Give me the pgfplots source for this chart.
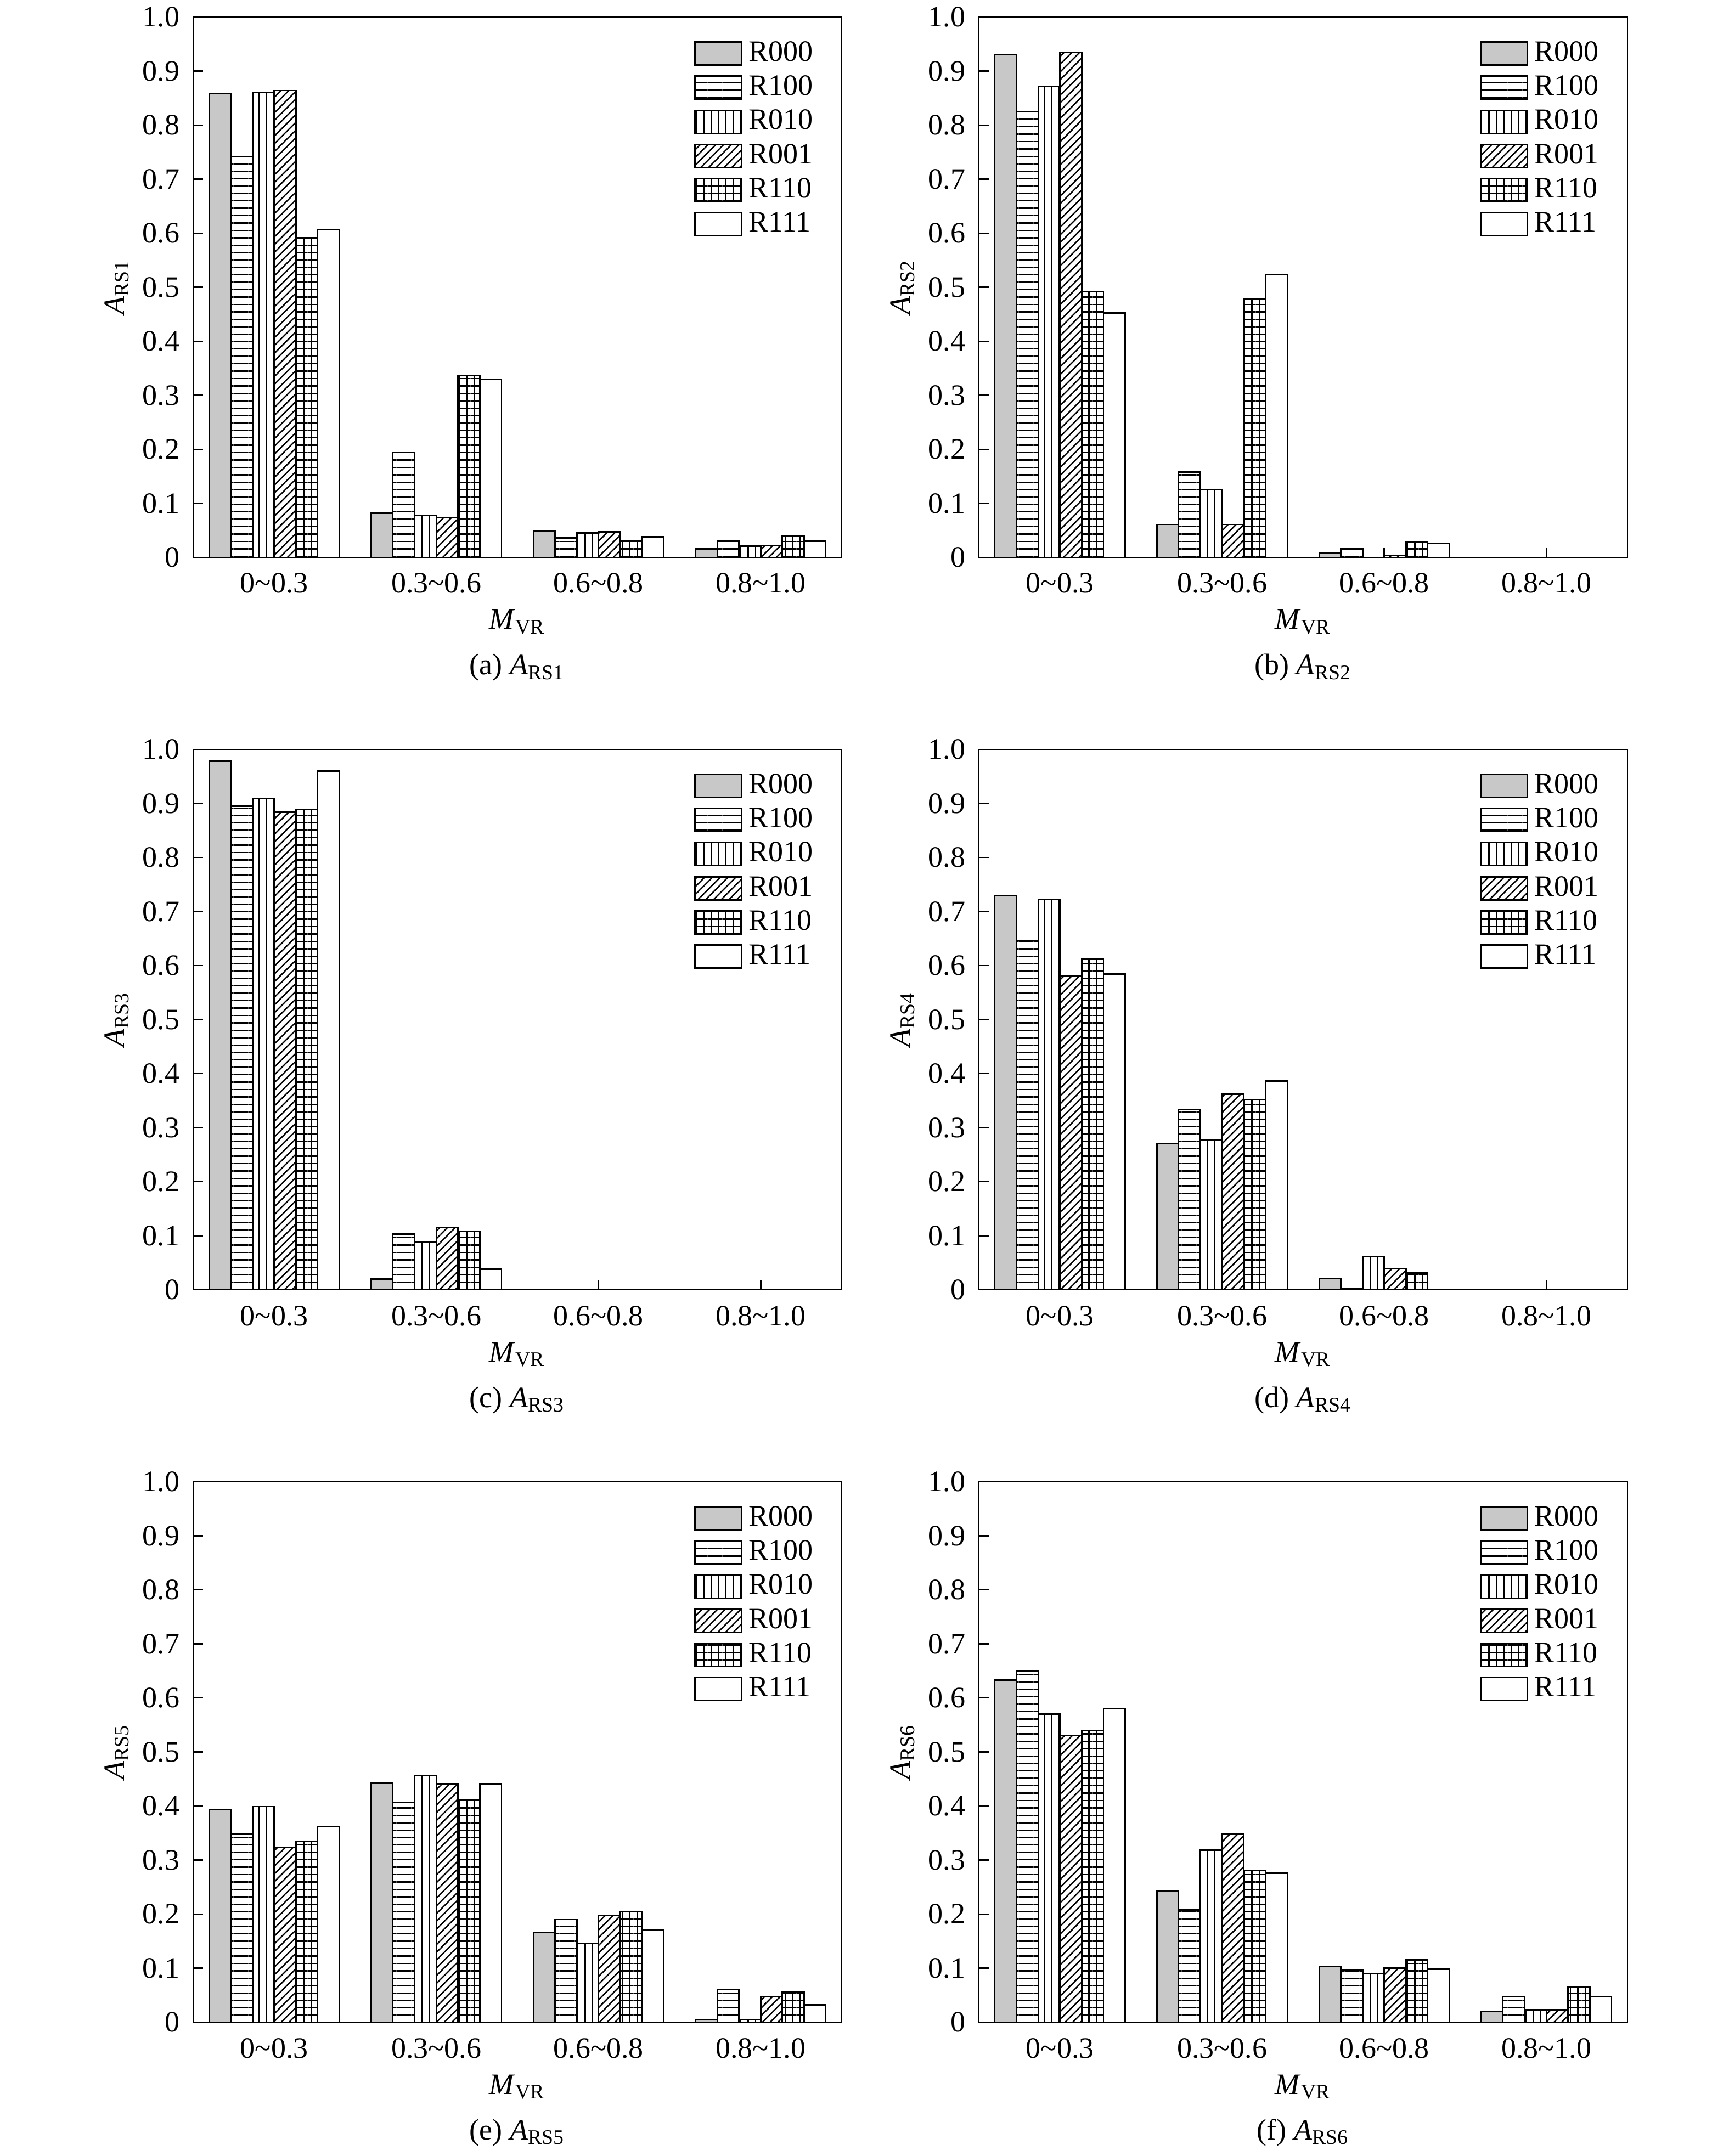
\documentclass[border=0pt]{standalone}
\usepackage{fontspec}
\setmainfont{Liberation Serif}
\usepackage{pgfplots}
\usepackage{pgfplotstable}
\pgfplotsset{compat=1.18}
\usetikzlibrary{patterns.meta}
\definecolor{barg}{RGB}{200,200,200}

% columns: group  R000 R100 R010 R001 R110 R111
\pgfplotstableread{
x a b c d e f
0 0.858 0.741 0.861 0.864 0.591 0.606
1 0.082 0.194 0.078 0.074 0.337 0.329
2 0.049 0.036 0.045 0.047 0.030 0.038
3 0.016 0.030 0.021 0.022 0.039 0.030
}\tA
\pgfplotstableread{
x a b c d e f
0 0.930 0.825 0.871 0.934 0.492 0.452
1 0.061 0.158 0.126 0.061 0.479 0.523
2 0.009 0.016 0.000 0.004 0.028 0.026
3 0.000 0.000 0.000 0.000 0.000 0.000
}\tB
\pgfplotstableread{
x a b c d e f
0 0.978 0.895 0.909 0.884 0.889 0.960
1 0.020 0.103 0.088 0.115 0.108 0.038
2 0.000 0.000 0.000 0.000 0.000 0.000
3 0.000 0.000 0.000 0.000 0.000 0.000
}\tC
\pgfplotstableread{
x a b c d e f
0 0.729 0.646 0.722 0.580 0.612 0.584
1 0.270 0.334 0.278 0.362 0.352 0.386
2 0.021 0.002 0.062 0.039 0.031 0.000
3 0.000 0.000 0.000 0.000 0.000 0.000
}\tD
\pgfplotstableread{
x a b c d e f
0 0.394 0.348 0.399 0.323 0.335 0.362
1 0.442 0.406 0.456 0.441 0.411 0.441
2 0.166 0.190 0.146 0.198 0.205 0.171
3 0.004 0.061 0.004 0.047 0.056 0.032
}\tE
\pgfplotstableread{
x a b c d e f
0 0.633 0.650 0.570 0.530 0.540 0.580
1 0.243 0.208 0.318 0.348 0.281 0.276
2 0.103 0.096 0.090 0.100 0.115 0.098
3 0.020 0.047 0.023 0.023 0.065 0.047
}\tF

\tikzset{
  sA/.style={draw=black, line width=0.55pt, fill=barg},
  sB/.style={draw=black, line width=0.55pt, pattern={Lines[angle=0,distance=2.7pt,line width=0.5pt]}},
  sC/.style={draw=black, line width=0.55pt, pattern={Lines[angle=90,distance=2.7pt,line width=0.5pt]}},
  sD/.style={draw=black, line width=0.55pt, pattern={Lines[angle=45,distance=2pt,line width=0.5pt]}},
  sE/.style={draw=black, line width=0.55pt, pattern={Hatch[angle=0,distance=2.7pt,line width=0.5pt]}},
  sF/.style={draw=black, line width=0.55pt, fill=white},
}

\pgfplotsset{panel/.style={
  width=236.4pt, height=197pt, scale only axis,
  anchor=north west,
  xmin=-0.5, xmax=3.5, ymin=0, ymax=1,
  ybar=0pt, bar width=0.134,
  xtick={0,1,2,3},
  xticklabels={0\textasciitilde0.3,0.3\textasciitilde0.6,0.6\textasciitilde0.8,0.8\textasciitilde1.0},
  ytick={0,0.1,0.2,0.3,0.4,0.5,0.6,0.7,0.8,0.9,1},
  yticklabels={0,0.1,0.2,0.3,0.4,0.5,0.6,0.7,0.8,0.9,1.0},
  tick pos=left, tick align=inside, major tick length=3.6pt,
  axis line style={line width=0.55pt},
  every tick/.style={black, line width=0.55pt},
  xticklabel style={anchor=base, yshift=-13pt},
  yticklabel style={anchor=east, xshift=-1.2pt},
  xlabel={\textit{M}\textsubscript{VR}},
  xlabel style={at={(axis description cs:0.5,0)}, anchor=base, yshift=-26.2pt},
  ylabel style={at={(axis description cs:-0.1176,0.5)}, anchor=center},
  legend style={at={(axis description cs:0.7724,0.9553)}, anchor=north west,
    draw=none, fill=none, inner sep=0pt, outer sep=0pt,
    row sep=3.5pt, column sep=2.4pt, nodes={inner sep=0pt}},
  legend cell align=left,
  legend image code/.code={\draw[#1] (0pt,-4.2pt) rectangle (17pt,4.2pt);},
}}

\newcommand{\panelplots}[1]{%
  \addplot[sA] table[x=x,y=a]{#1};
  \addplot[sB] table[x=x,y=b]{#1};
  \addplot[sC] table[x=x,y=c]{#1};
  \addplot[sD] table[x=x,y=d]{#1};
  \addplot[sE] table[x=x,y=e]{#1};
  \addplot[sF] table[x=x,y=f]{#1};
  \legend{R000,R100,R010,R001,R110,R111}
}

\begin{document}
\fontsize{10.8pt}{13pt}\selectfont
\begin{tikzpicture}
\useasboundingbox (0,0) rectangle (630pt,-786pt);

\begin{axis}[panel, name=pa, at={(70.4pt,-6.2pt)}, ylabel={\textit{A}\textsubscript{RS1}}]
\panelplots{\tA}
\end{axis}
\node[anchor=base, yshift=-42.8pt] at (pa.south) {(a) \textit{A}\textsubscript{RS1}};

\begin{axis}[panel, name=pb, at={(356.8pt,-6.2pt)}, ylabel={\textit{A}\textsubscript{RS2}}]
\panelplots{\tB}
\end{axis}
\node[anchor=base, yshift=-42.8pt] at (pb.south) {(b) \textit{A}\textsubscript{RS2}};

\begin{axis}[panel, name=pc, at={(70.4pt,-273.2pt)}, ylabel={\textit{A}\textsubscript{RS3}}]
\panelplots{\tC}
\end{axis}
\node[anchor=base, yshift=-42.8pt] at (pc.south) {(c) \textit{A}\textsubscript{RS3}};

\begin{axis}[panel, name=pd, at={(356.8pt,-273.2pt)}, ylabel={\textit{A}\textsubscript{RS4}}]
\panelplots{\tD}
\end{axis}
\node[anchor=base, yshift=-42.8pt] at (pd.south) {(d) \textit{A}\textsubscript{RS4}};

\begin{axis}[panel, name=pe, at={(70.4pt,-540.2pt)}, ylabel={\textit{A}\textsubscript{RS5}}]
\panelplots{\tE}
\end{axis}
\node[anchor=base, yshift=-42.8pt] at (pe.south) {(e) \textit{A}\textsubscript{RS5}};

\begin{axis}[panel, name=pf, at={(356.8pt,-540.2pt)}, ylabel={\textit{A}\textsubscript{RS6}}]
\panelplots{\tF}
\end{axis}
\node[anchor=base, yshift=-42.8pt] at (pf.south) {(f) \textit{A}\textsubscript{RS6}};
\end{tikzpicture}
\end{document}
